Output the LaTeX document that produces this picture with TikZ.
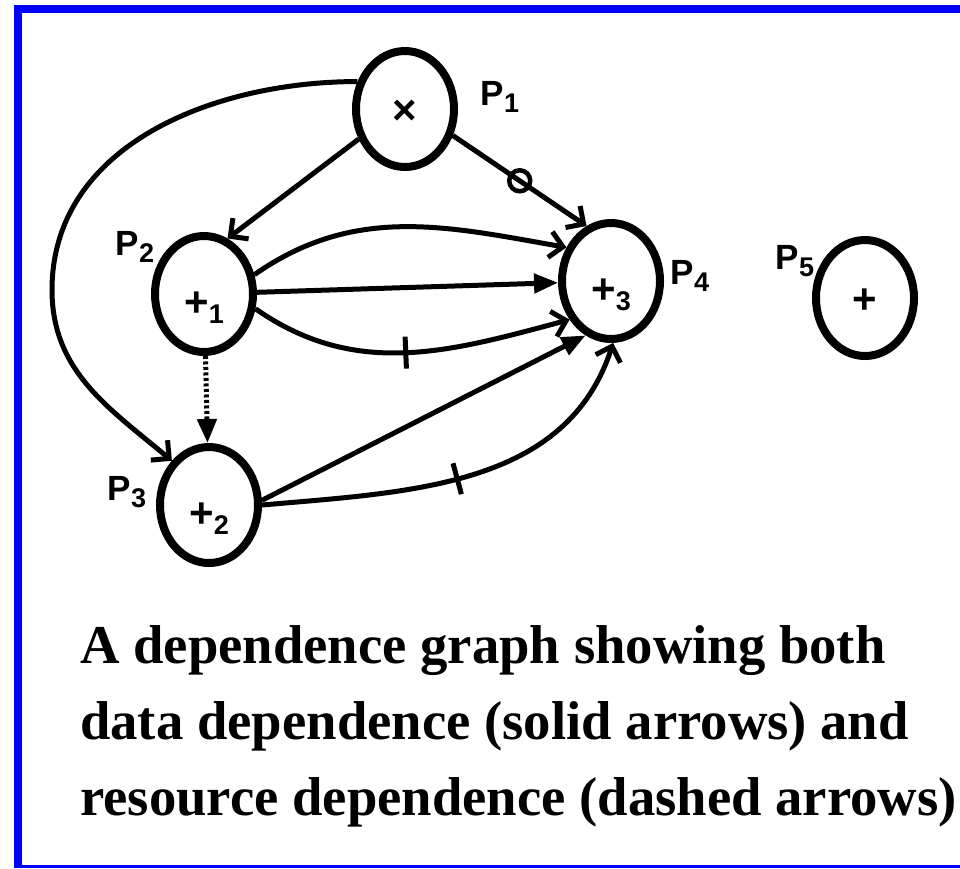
\documentclass[tikz,border=0pt]{standalone}
\usepackage{fontspec}
\setmainfont{Liberation Serif}
\newfontfamily\labelfont{Liberation Sans}
\usetikzlibrary{arrows.meta,shapes.geometric}
\definecolor{frameblue}{RGB}{0,0,255}
\newcommand{\lowsub}[1]{\raisebox{-7pt}{\fontsize{27}{27}\selectfont #1}}

\begin{document}
\begin{tikzpicture}[x=1pt, y=1pt,
    proc/.style={ellipse, draw, line width=8pt, minimum width=98pt, minimum height=116pt, inner sep=0pt,
                 text height=30pt, text depth=0pt, font=\labelfont\bfseries\fontsize{42}{42}\selectfont},
    subproc/.style={proc, text height=44pt},
    plabel/.style={inner sep=0pt, font=\labelfont\bfseries\fontsize{35}{35}\selectfont},
    data/.style={line width=5pt, -{Straight Barb[length=13pt, width=26pt]}},
    fdata/.style={line width=5pt, -{Triangle[length=24pt, width=19pt]}},
    res/.style={fdata, dash pattern=on 3pt off 2.5pt},
    bar/.style={sloped, draw, line width=5pt, minimum width=0pt, minimum height=32pt, inner sep=0pt},
    ring/.style={circle, draw, line width=4.5pt, minimum size=21pt, inner sep=0pt}
  ]
  \useasboundingbox (0,0) rectangle (960,-868);

  % Frame
  \fill[frameblue] (14,-5) rectangle (960,-13);
  \fill[frameblue] (14,-5) rectangle (22,-868);
  \fill[frameblue] (14,-865) rectangle (960,-868);

  % Processes
  \node[proc] (n1) at (405,-109) {×};
  \node[subproc] (n2) at (204,-294) {+\lowsub{1}};
  \node[subproc] (n3) at (209,-505) {+\lowsub{2}};
  \node[subproc] (n4) at (611,-281) {+\lowsub{3}};
  \node[proc] (n5) at (865,-298) {+};

  % Labels
  \node[plabel] (l1) at (500,-97) {P\lowsub{1}};
  \node[plabel] (l2) at (135,-247) {P\lowsub{2}};
  \node[plabel] (l3) at (127,-492) {P\lowsub{3}};
  \node[plabel] (l4) at (690,-276) {P\lowsub{4}};
  \node[plabel] (l5) at (795,-261) {P\lowsub{5}};

  % Edges out of P1
  \coordinate (bend) at (52,-290);
  \draw[data] (n1.150) to[out=180,in=90] (bend) to[out=-90,in=140] (n3.130);
  \draw[data] (n1.213) -- (n2.67);
  \draw[data] (n1.-29) -- node[ring, pos=.5] {} (n4.114);

  % Edges out of P2
  \draw[data] (n2.21) to[out=35,in=170] (n4.143);
  \draw[fdata] (n2) -- (n4);
  \draw[data] (n2.-16) to[out=-35,in=195] node[bar, pos=.5] {} (n4.223);
  \draw[res] (n2) -- (n3);

  % Edges out of P3
  \draw[fdata] (n3.5) -- (n4.245);
  \draw[data] (n3.0) to[out=5,in=-108] node[bar, pos=.45] {} (n4.-88);

  % Caption
  \node[anchor=base west, align=left, inner sep=0pt, font=\bfseries\fontsize{54.7}{76}\selectfont]
    (caption) at (80,-815) {A dependence graph showing both\\
                            data dependence (solid arrows) and\\
                            resource dependence (dashed arrows)};

\end{tikzpicture}
\end{document}
